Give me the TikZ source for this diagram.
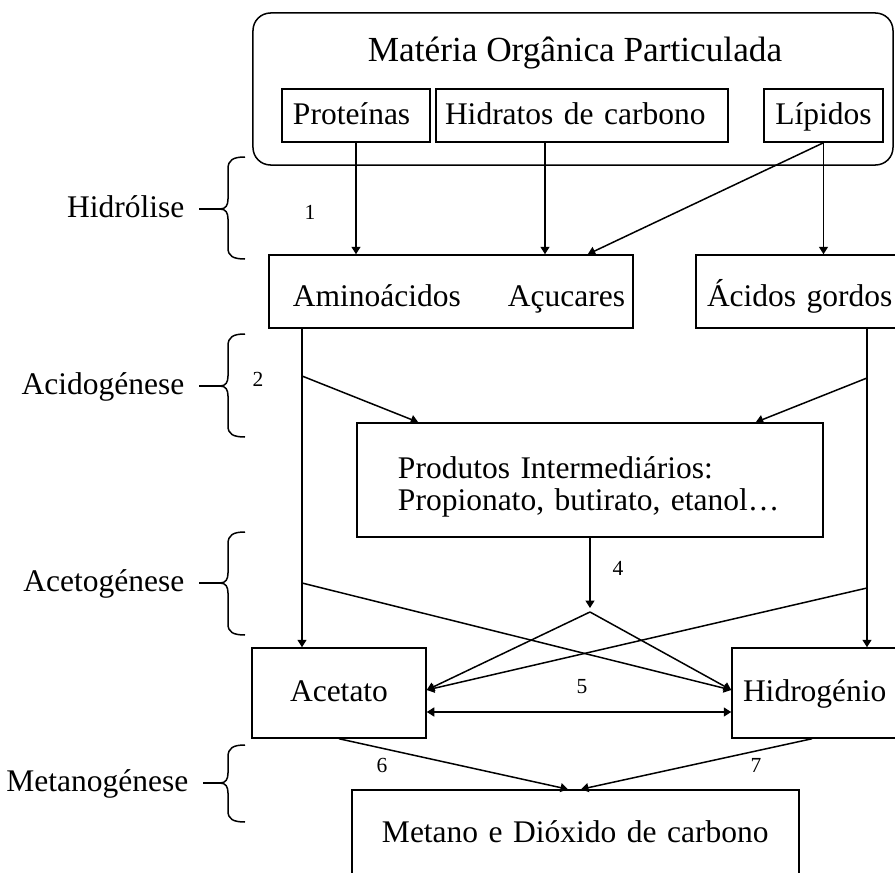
\documentclass[tikz,border=0pt]{standalone}
\usepackage{fontspec}
\setmainfont{Liberation Serif}
\usetikzlibrary{positioning,arrows.meta,calc}

\begin{document}
\begin{tikzpicture}[
  x=0.4pt, y=-0.4pt, line width=0.6pt,
  box/.style={draw, rectangle, inner ysep=0pt, font=\fontsize{12.6}{12.9}\selectfont},
  oneline/.style={text height=0.7em, text depth=0pt},
  grp/.style={draw, rectangle, rounded corners=7pt, minimum width=256pt, minimum height=60.8pt},
  phase/.style={anchor=east, inner xsep=5.6pt, inner ysep=0pt, text height=0.7em, text depth=0pt, font=\fontsize{12.6}{12.9}\selectfont},
  num/.style={inner sep=0pt, font=\fontsize{8.6}{9}\selectfont},
  arrow/.style={-{Triangle[length=3pt,width=3.6pt]}},
  both/.style={{Triangle[length=3pt,width=3.6pt]}-{Triangle[length=3pt,width=3.6pt]}},
]
\useasboundingbox (0,0) rectangle (895,873);
\clip (0,0) rectangle (895,873);
% --- particulate matter ---
\node[grp] (mop) at (573,89) {};
\node[oneline, inner sep=0pt, font=\fontsize{14.1}{15}\selectfont] (mtitle) at (575,53) {Matéria Orgânica Particulada};
\node[box, oneline, minimum height=21.2pt, align=left, inner xsep=4.4pt, text width=50.4pt] (prot) at (356,115.5) {Proteínas};
\node[box, oneline, minimum height=21.2pt, align=left, inner xsep=3.6pt, text width=109.6pt] (hidc) at (582,115.5) {Hidratos de carbono};
\node[box, oneline, minimum height=21.2pt, minimum width=47.6pt, inner xsep=0pt] (lip) at (823.5,115.5) {Lípidos};
% --- products ---
\node[box, oneline, text height=11.6pt, minimum height=29.2pt, align=right, inner xsep=3.2pt, text width=139.2pt] (aaac) at (451,291.5) {Aminoácidos\hspace{18.8pt}Açucares};
\node[box, oneline, text height=11.6pt, minimum height=29.2pt, align=left, inner xsep=4.4pt, text width=74.8pt] (acg) at (800.5,291.5) {Ácidos gordos};
\node[box, minimum height=45.6pt, align=left, inner xsep=16.4pt, text width=153.6pt] (prod) at (590,480) {\rule{0pt}{14.4pt}Produtos Intermediários:\\Propionato, butirato, etanol…};
\node[box, oneline, minimum width=69.6pt, minimum height=36pt] (acet) at (339,693) {Acetato};
\node[box, oneline, minimum height=36pt, align=left, inner xsep=4.4pt, text width=60.4pt] (hidro) at (818.5,693) {Hidrogénio};
\node[box, oneline, minimum height=35.2pt, align=left, inner xsep=12pt, text width=154.8pt] (metco) at (575.5,834) {Metano e Dióxido de carbono};
% --- phases ---
\node[phase] (lhid) at (199,209) {Hidrólise};
\node[phase] (lacid) at (199,386) {Acidogénese};
\node[phase] (lacet) at (199,583) {Acetogénese};
\node[phase] (lmet) at (203,783) {Metanogénese};
\coordinate (bt1) at (220,209);
\coordinate (bt2) at (220,386);
\coordinate (bt3) at (220,583);
\coordinate (bt4) at (220,783);
\draw (245,157) .. controls (233,157) and (228,160) .. (228,169) -- (228,199) .. controls (228,205) and (226,209) .. (bt1) .. controls (226,209) and (228,213) .. (228,219) -- (228,248) .. controls (228,256) and (233,259) .. (245,259);
\draw (245,334) .. controls (233,334) and (228,337) .. (228,346) -- (228,376) .. controls (228,382) and (226,386) .. (bt2) .. controls (226,386) and (228,390) .. (228,396) -- (228,426) .. controls (228,434) and (233,437) .. (245,437);
\draw (245,532) .. controls (233,532) and (228,535) .. (228,544) -- (228,573) .. controls (228,579) and (226,583) .. (bt3) .. controls (226,583) and (228,587) .. (228,593) -- (228,624) .. controls (228,632) and (233,635) .. (245,635);
\draw (245,745) .. controls (233,745) and (228,748) .. (228,757) -- (228,773) .. controls (228,779) and (226,783) .. (bt4) .. controls (226,783) and (228,787) .. (228,793) -- (228,811) .. controls (228,819) and (233,822) .. (245,822);
\draw (lhid.east) -- (bt1);
\draw (lacid.east) -- (bt2);
\draw (lacet.east) -- (bt3);
\draw (lmet.east) -- (bt4);
% --- step numbers ---
\node[num] (n1) at (310,212) {1};
\node[num] (n2) at (258,379) {2};
\node[num] (n4) at (618,568) {4};
\node[num] (n5) at (582,687) {5};
\node[num] (n6) at (382,765) {6};
\node[num] (n7) at (756,765) {7};
% --- flows ---
\coordinate (ja) at (302,376);
\coordinate (jb) at (867,378);
\coordinate (jc) at (302,583);
\coordinate (jd) at (867,588);
\coordinate (apex) at (590,612);
\draw[arrow] (prot.south) -- (prot.south |- aaac.north);
\draw[arrow] ([xshift=-14.8pt]hidc.south) -- ([xshift=-14.8pt]hidc.south |- aaac.north);
\draw[arrow] (lip.south) -- (lip.south |- acg.north);
\draw[arrow] (lip.south) -- ([xshift=-18.4pt]aaac.north east);
\draw[arrow] (ja |- aaac.south) -- (ja |- acet.north);
\draw[arrow] (jb |- acg.south) -- (jb |- hidro.north);
\draw[arrow] (ja) -- ([xshift=24.8pt]prod.north west);
\draw[arrow] (jb) -- ([xshift=-27.2pt]prod.north east);
\draw[arrow] (prod.south) -- ([yshift=1.6pt]apex);
\draw[arrow] (apex) -- ([yshift=1.2pt]acet.east);
\draw[arrow] (apex) -- ([yshift=1.2pt]hidro.west);
\draw[arrow] (jc) -- ([yshift=1.2pt]hidro.west);
\draw[arrow] (jd) -- ([yshift=1.2pt]acet.east);
\draw[both] ([yshift=-7.6pt]acet.east) -- ([yshift=-7.6pt]hidro.west);
\draw[arrow] (acet.south) -- ([xshift=-3pt]metco.north);
\draw[arrow] ([xshift=-2.6pt]hidro.south) -- ([xshift=2.2pt]metco.north);
\end{tikzpicture}
\end{document}
